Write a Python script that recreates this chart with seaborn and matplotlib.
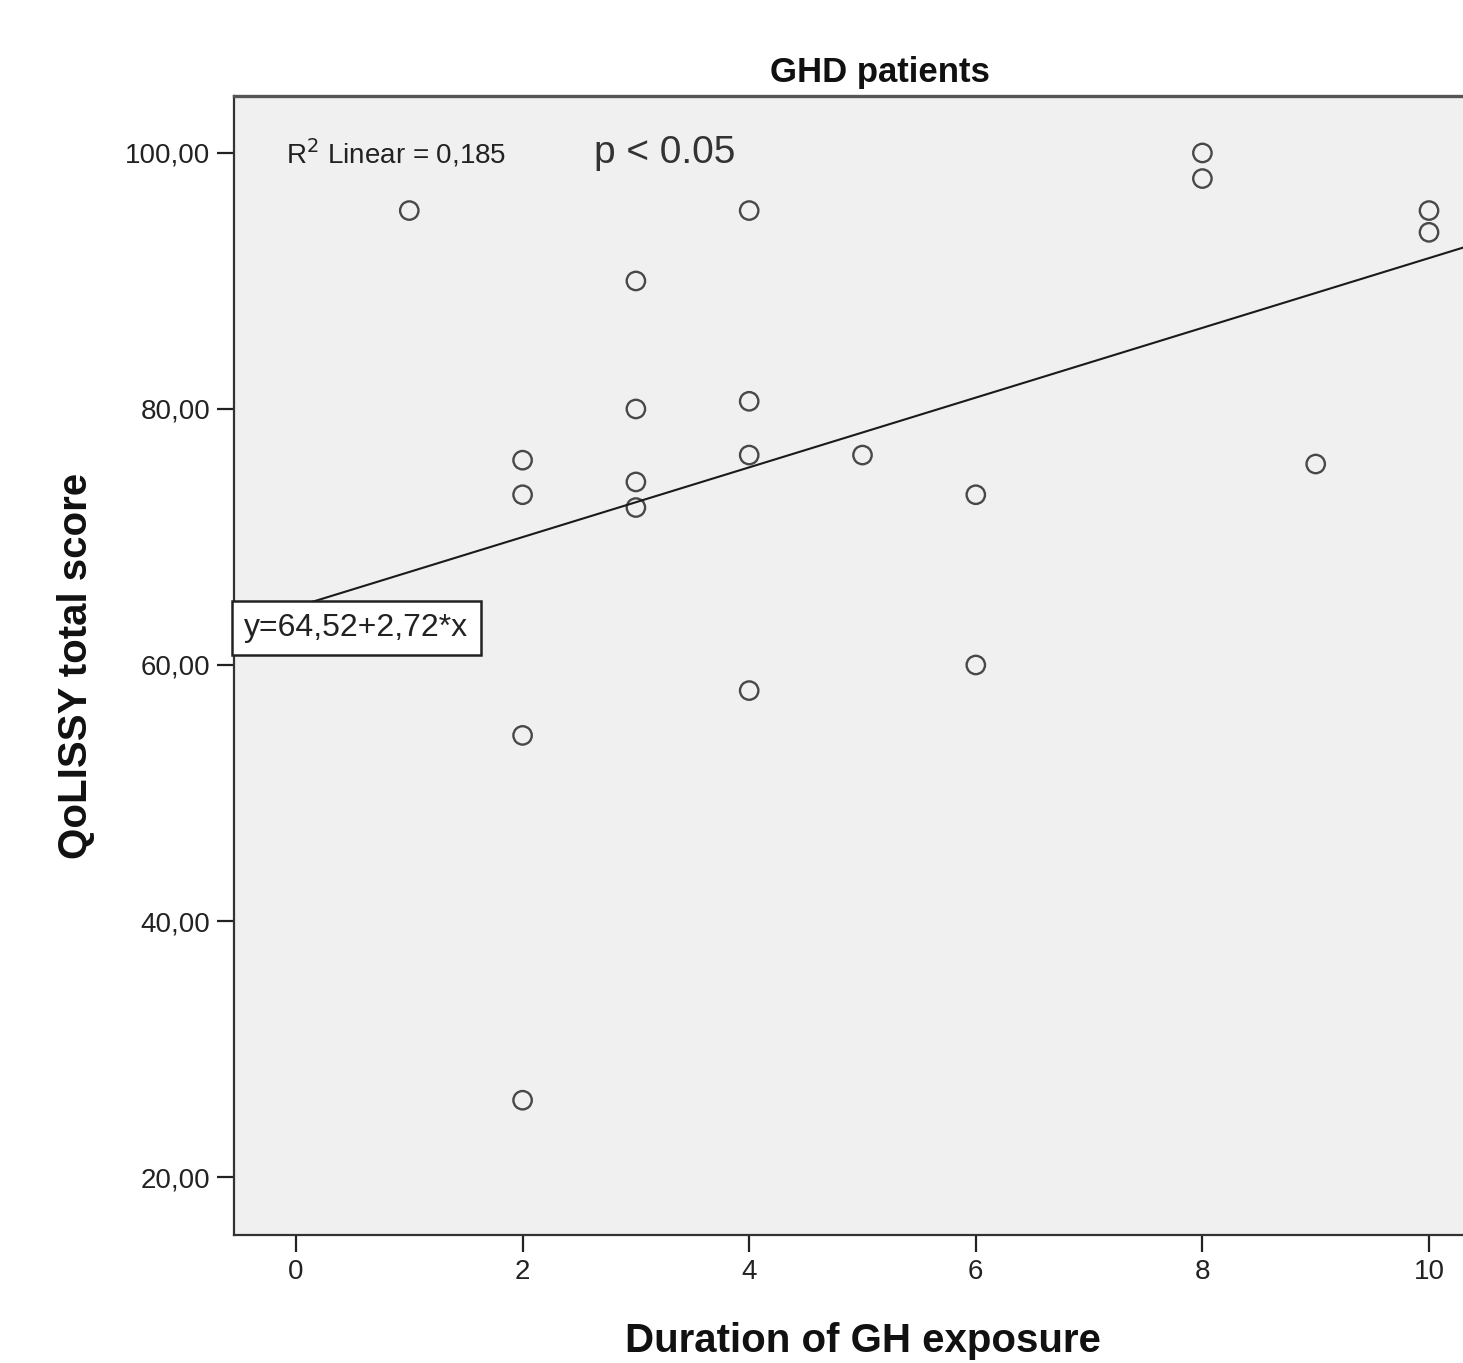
import matplotlib
matplotlib.use("Agg")
import matplotlib.pyplot as plt
import seaborn as sns
import pandas as pd
from matplotlib.ticker import FuncFormatter

# Data
duration = [1, 2, 2, 2, 2, 3, 3, 3, 3, 4, 4, 4, 4, 5, 6, 6, 8, 8, 9, 10, 10]
qolissy = [95.5, 76.0, 73.3, 54.5, 26.0, 90.0, 80.0, 74.3, 72.3, 95.5, 80.6, 76.4,
           58.0, 76.4, 73.3, 60.0, 100.0, 98.0, 75.7, 95.5, 93.8]
x_ticks = [0, 2, 4, 6, 8, 10]
y_ticks = [20, 40, 60, 80, 100]
title = "GHD patients"
x_label = "Duration of GH exposure"
y_label = "QoLISSY total score"
r2_text = "R$^2$ Linear = 0,185"
p_text = "p < 0.05"
eq_text = "y=64,52+2,72*x"

df = pd.DataFrame({"duration": duration, "qolissy": qolissy})

sns.set_theme(style="white")
plt.rcParams["font.family"] = ["Liberation Sans", "DejaVu Sans"]

fig = plt.figure(figsize=(14.63, 13.63), dpi=100)
ax = fig.add_axes([234 / 1463, 1 - 1235 / 1363, (1526 - 234) / 1463, (1235 - 96) / 1363])
ax.set_facecolor("#F0F0F0")
ax.set_xlim(-0.547, 10.856)
ax.set_ylim(15.47, 104.45)

sns.regplot(data=df, x="duration", y="qolissy", ax=ax, ci=None, truncate=False,
            scatter_kws={"s": 175, "facecolors": "none", "edgecolors": "#1e1e1e",
                         "linewidths": 1.7},
            line_kws={"color": "#1a1a1a", "linewidth": 1.5})

ax.set_xticks(x_ticks)
ax.set_yticks(y_ticks)
ax.yaxis.set_major_formatter(FuncFormatter(lambda v, p: f"{v:.2f}".replace(".", ",")))
ax.tick_params(axis="both", which="major", direction="out", length=12, width=1.6,
               color="#222222", labelsize=20, labelcolor="#222222", pad=5,
               bottom=True, left=True)

for side in ["left", "bottom", "top"]:
    ax.spines[side].set_color("#333333")
    ax.spines[side].set_linewidth(1.6)
ax.spines["top"].set_linewidth(2.4)
ax.spines["top"].set_color("#555555")
ax.spines["right"].set_visible(False)

ax.set_title(title, fontsize=25, fontweight="bold", color="#111111", pad=10)
ax.set_xlabel(x_label, fontsize=29, fontweight="bold", color="#111111", labelpad=28)
ax.xaxis.set_label_coords((863 - 234) / 1292, -0.076)
ax.set_ylabel(y_label, fontsize=29, fontweight="bold", color="#111111", labelpad=22)

ax.text(0.040, 100.0, r2_text, fontsize=20, color="#222222", va="center", ha="left",
        transform=ax.get_yaxis_transform())
ax.text(0.279, 100.0, p_text, fontsize=28, color="#333333", va="center", ha="left",
        transform=ax.get_yaxis_transform())
ax.text(0.008, 62.9, eq_text, fontsize=23, color="#222222", va="center", ha="left",
        transform=ax.get_yaxis_transform(),
        bbox=dict(boxstyle="square,pad=0.38", facecolor="white", edgecolor="#222222",
                  linewidth=1.8))

fig.savefig("out.png", dpi=100)
